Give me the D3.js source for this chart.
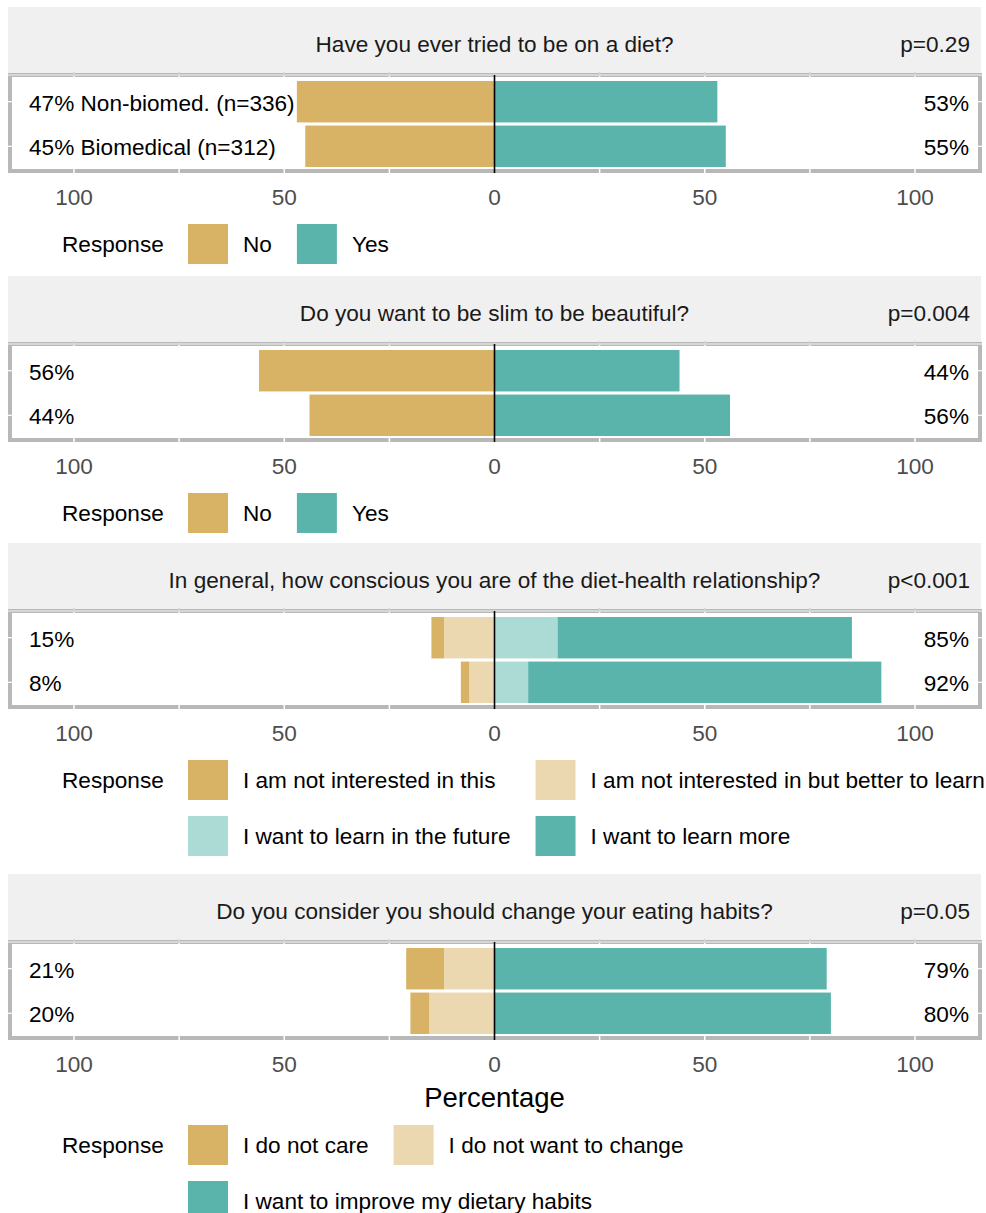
<!DOCTYPE html>
<html>
<head>
<meta charset="utf-8">
<script src="https://cdn.jsdelivr.net/npm/d3@7"></script>
<style>
  body { margin: 0; background: #fff; }
  svg { display: block; font-family: "Liberation Sans", Arial, sans-serif; }
</style>
</head>
<body>
<svg id="chart" width="986" height="1213"></svg>
<script>
// groups (rows in each panel, top to bottom)
const groups = ["Non-biomed. (n=336)", "Biomedical (n=312)"];

const questions = [
  "Have you ever tried to be on a diet?",
  "Do you want to be slim to be beautiful?",
  "In general, how conscious you are of the diet-health relationship?",
  "Do you consider you should change your eating habits?"
];
const pvalues = ["p=0.29", "p=0.004", "p<0.001", "p=0.05"];

// response levels per question
const levels1 = ["No", "Yes"];
const levels2 = ["No", "Yes"];
const levels3 = ["I am not interested in this", "I am not interested in but better to learn",
                 "I want to learn in the future", "I want to learn more"];
const levels4 = ["I do not care", "I do not want to change", "I want to improve my dietary habits"];

// how many levels sit on the negative side
const negCounts = [1, 1, 2, 2];

// percentages, one array per group, in level order
const values1 = [[47, 53], [45, 55]];
const values2 = [[56, 44], [44, 56]];
const values3 = [[3, 12, 15, 70], [2, 6, 8, 84]];
const values4 = [[9, 12, 79], [4.5, 15.5, 80]];

const colors2 = ["#d8b365", "#5ab4ac"];
const colors3 = ["#d8b365", "#ebd8b0", "#acdbd6", "#5ab4ac"];
const colors4 = ["#d8b365", "#ebd8b0", "#5ab4ac"];

const xTicks = [-100, -50, 0, 50, 100];
const xGrid = [-100, -75, -50, -25, 25, 50, 75, 100];

const panels = [
  { levels: levels1, values: values1, colors: colors2, top: 7, legendRows: [[0, 1]], showGroup: true },
  { levels: levels2, values: values2, colors: colors2, top: 276, legendRows: [[0, 1]] },
  { levels: levels3, values: values3, colors: colors3, top: 543, legendRows: [[0, 1], [2, 3]] },
  { levels: levels4, values: values4, colors: colors4, top: 874, legendRows: [[0, 1], [2]], axisTitle: true }
];

const svg = d3.select("#chart");
const fontSize = 22.6;
const stripH = 68, panelH = 98;
const left = 8, right = 982;

const x = d3.scaleLinear().domain([-100, 100]).range([74, 915]);

// measure text for legend layout
const measurer = svg.append("text").attr("font-size", fontSize).attr("visibility", "hidden");
function textWidth(s) {
  measurer.text(s);
  return measurer.node().getComputedTextLength();
}

panels.forEach(function(p, qi) {
  const g = svg.append("g");
  const stripTop = p.top;
  const pTop = stripTop + stripH;
  const pBot = pTop + panelH;

  // strip
  g.append("rect")
    .attr("x", left).attr("y", stripTop)
    .attr("width", right - 1 - left).attr("height", stripH)
    .attr("fill", "#f0f0f0");
  g.append("text")
    .attr("x", x(0)).attr("y", stripTop + stripH / 2 + 3)
    .attr("dy", "0.35em").attr("text-anchor", "middle")
    .attr("font-size", fontSize).attr("fill", "#1a1a1a")
    .text(questions[qi]);
  g.append("text")
    .attr("x", 970).attr("y", stripTop + stripH / 2 + 3)
    .attr("dy", "0.35em").attr("text-anchor", "end")
    .attr("font-size", fontSize).attr("fill", "#1a1a1a")
    .text(pvalues[qi]);

  // panel
  g.append("rect")
    .attr("x", left + 2).attr("y", pTop)
    .attr("width", right - left - 4).attr("height", panelH - 2)
    .attr("fill", "#fff").attr("stroke", "#b8b8b8").attr("stroke-width", 4);
  g.append("line")
    .attr("x1", left).attr("x2", right)
    .attr("y1", pTop).attr("y2", pTop)
    .attr("stroke", "#d6d6d6").attr("stroke-width", 2);

  // white grid lines cutting through the border
  g.selectAll(".grid").data(xGrid).enter().append("line")
    .attr("x1", d => x(d)).attr("x2", d => x(d))
    .attr("y1", pTop + 1).attr("y2", pBot + 1)
    .attr("stroke", "#fff").attr("stroke-width", 1.5);
  g.selectAll(".topTick").data(xGrid).enter().append("line")
    .attr("x1", d => x(d)).attr("x2", d => x(d))
    .attr("y1", pTop - 3).attr("y2", pTop)
    .attr("stroke", "#d6d6d6").attr("stroke-width", 1.5);

  const y = d3.scaleBand().domain(groups).range([pTop + 6, pBot - 6]).paddingInner(0.07);

  // left/right white ticks on the border
  g.selectAll(".ytick").data(groups).enter().append("line")
    .attr("x1", left).attr("x2", left + 4)
    .attr("y1", d => y(d) + y.bandwidth() / 2).attr("y2", d => y(d) + y.bandwidth() / 2)
    .attr("stroke", "#fff").attr("stroke-width", 1.2);
  g.selectAll(".ytick2").data(groups).enter().append("line")
    .attr("x1", right - 4).attr("x2", right)
    .attr("y1", d => y(d) + y.bandwidth() / 2).attr("y2", d => y(d) + y.bandwidth() / 2)
    .attr("stroke", "#fff").attr("stroke-width", 1.2);

  // stacked segments
  const nNeg = negCounts[qi];
  const segs = [];
  p.values.forEach(function(row, gi) {
    let acc = 0;
    for (let i = nNeg - 1; i >= 0; i--) {
      segs.push({ group: groups[gi], lvl: i, x0: -(acc + row[i]), x1: -acc });
      acc += row[i];
    }
    acc = 0;
    for (let i = nNeg; i < row.length; i++) {
      segs.push({ group: groups[gi], lvl: i, x0: acc, x1: acc + row[i] });
      acc += row[i];
    }
  });
  g.selectAll(".seg").data(segs).enter().append("rect")
    .attr("x", d => x(d.x0))
    .attr("width", d => x(d.x1) - x(d.x0))
    .attr("y", d => y(d.group))
    .attr("height", y.bandwidth())
    .attr("fill", d => p.colors[d.lvl]);

  // zero line
  g.append("line")
    .attr("x1", x(0)).attr("x2", x(0))
    .attr("y1", pTop).attr("y2", pBot)
    .attr("stroke", "#000").attr("stroke-width", 1.6);

  // percentage labels
  p.values.forEach(function(row, gi) {
    const neg = Math.round(d3.sum(row.slice(0, nNeg)));
    const pos = Math.round(d3.sum(row.slice(nNeg)));
    const cy = y(groups[gi]) + y.bandwidth() / 2 + 1;
    g.append("text")
      .attr("x", 29).attr("y", cy).attr("dy", "0.35em")
      .attr("font-size", fontSize).attr("fill", "#000")
      .text(neg + "%" + (p.showGroup ? " " + groups[gi] : ""));
    g.append("text")
      .attr("x", 969).attr("y", cy).attr("dy", "0.35em")
      .attr("text-anchor", "end")
      .attr("font-size", fontSize).attr("fill", "#000")
      .text(pos + "%");
  });

  // x tick labels
  g.selectAll(".xlab").data(xTicks).enter().append("text")
    .attr("x", d => x(d)).attr("y", pBot + 24).attr("dy", "0.35em")
    .attr("text-anchor", "middle")
    .attr("font-size", fontSize).attr("fill", "#4d4d4d")
    .text(d => Math.abs(d));

  let legendTop = pBot + 51;
  if (p.axisTitle) {
    g.append("text")
      .attr("x", x(0)).attr("y", pBot + 57).attr("dy", "0.35em")
      .attr("text-anchor", "middle")
      .attr("font-size", 27.5).attr("fill", "#000")
      .text("Percentage");
    legendTop = pBot + 85;
  }

  // legend: columns aligned across rows that continue past them
  g.append("text")
    .attr("x", 62).attr("y", legendTop + 20).attr("dy", "0.35em")
    .attr("font-size", fontSize).attr("fill", "#000")
    .text("Response");
  const nCols = d3.max(p.legendRows, r => r.length);
  const colX = [188];
  for (let c = 1; c < nCols; c++) {
    const prev = p.legendRows.filter(r => r.length > c).map(r => textWidth(p.levels[r[c - 1]]));
    colX.push(colX[c - 1] + 55 + d3.max(prev) + 25);
  }
  p.legendRows.forEach(function(items, ri) {
    const ty = legendTop + ri * 56;
    items.forEach(function(li, ci) {
      g.append("rect")
        .attr("x", colX[ci]).attr("y", ty)
        .attr("width", 40).attr("height", 40)
        .attr("fill", p.colors[li]);
      g.append("text")
        .attr("x", colX[ci] + 55).attr("y", ty + 20).attr("dy", "0.35em")
        .attr("font-size", fontSize).attr("fill", "#000")
        .text(p.levels[li]);
    });
  });
});

measurer.remove();
</script>
</body>
</html>
